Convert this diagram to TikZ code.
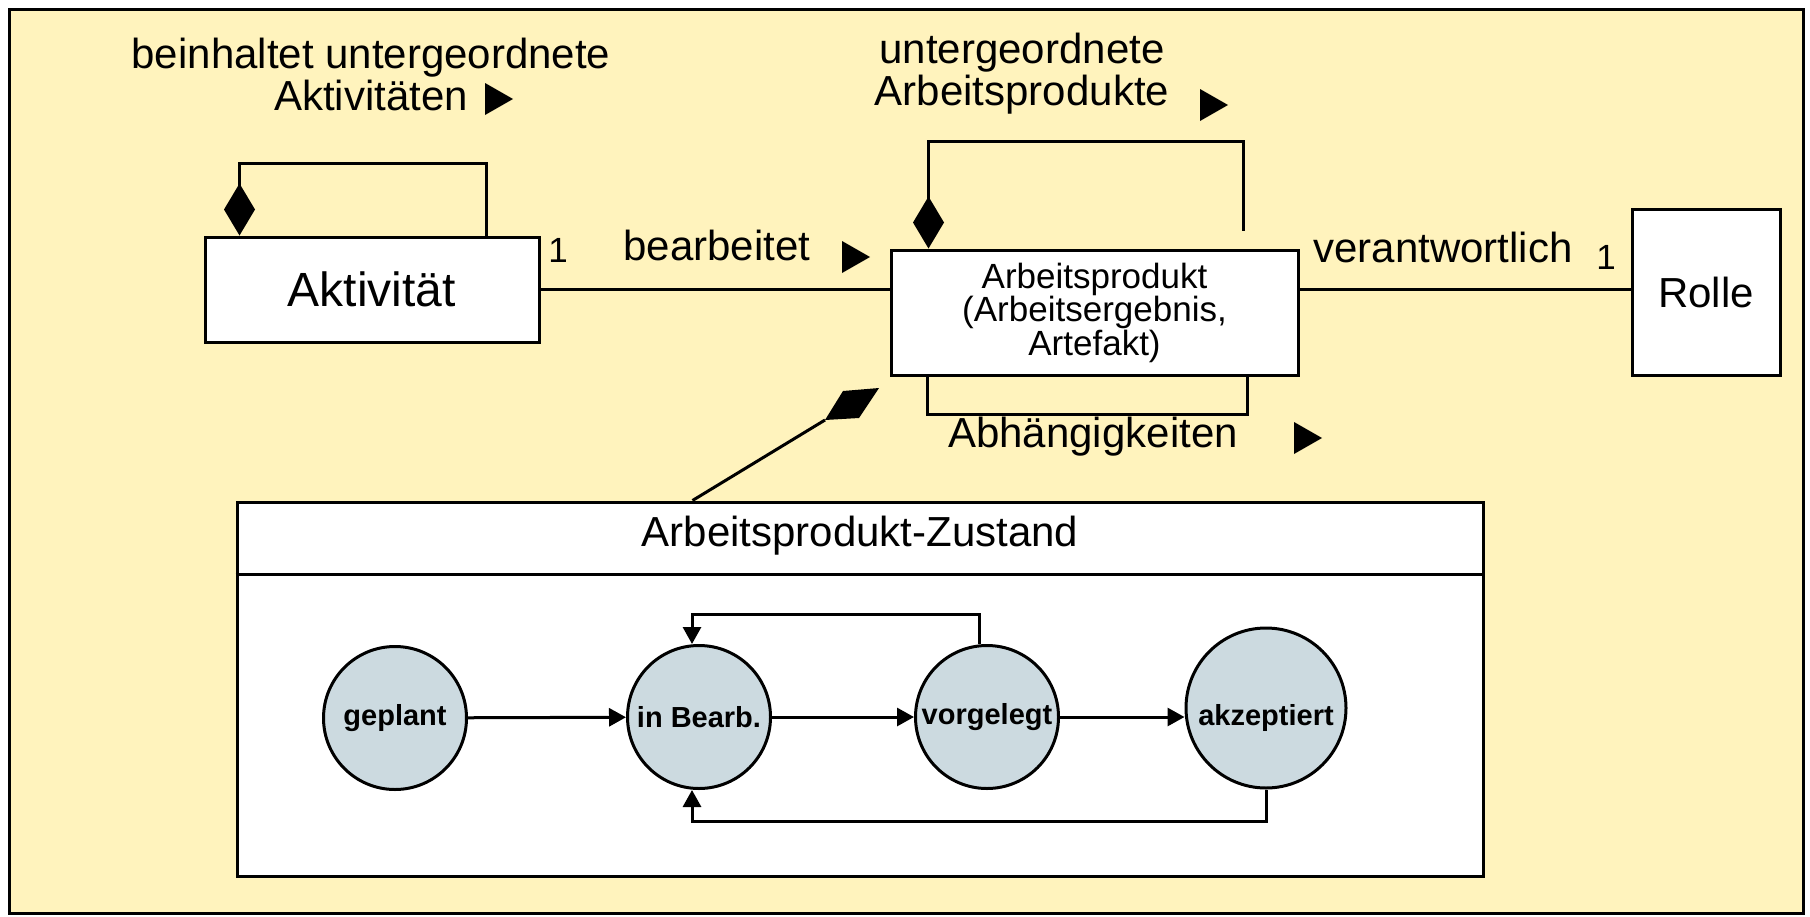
\documentclass[tikz,border=0pt]{standalone}
\usepackage{fontspec}
\setmainfont{Liberation Sans}
\usetikzlibrary{calc,arrows.meta}
\definecolor{bgyellow}{RGB}{255,243,189}
\definecolor{statefill}{RGB}{204,218,224}
\def\dirmark(#1,#2){\fill (#1,#2) ++(-13,-16) -- ++(28,16) -- ++(-28,16) -- cycle;}
\tikzset{
  cls/.style={draw, fill=white, line width=1.5pt, inner sep=0pt},
  lbl/.style={inner sep=0pt, align=center, font=\fontsize{21}{21}\selectfont},
  mult/.style={inner sep=0pt, font=\fontsize{17.5}{17.5}\selectfont},
  assoc/.style={line width=1.5pt},
  comp/.style={line width=1.5pt, -{Diamond[length=26pt,width=15.5pt]}},
  zstate/.style={circle, draw, fill=statefill, line width=1.5pt, inner sep=0pt,
    minimum size=71.5pt, font=\bfseries\fontsize{14.5}{14.5}\selectfont},
  trans/.style={line width=1.5pt, -{Triangle[length=8.5pt,width=9pt]}},
}

\begin{document}
\begin{tikzpicture}[x=0.5pt,y=-0.5pt]
		%%%%% FRAME %%%%%
		\useasboundingbox (0,0) rectangle (1810,916);
		\draw[line width=1.5pt, fill=bgyellow] (9,9) rectangle (1803,913);
		
		%%%%% CLASSES %%%%%
		\node[cls, minimum width=167pt, minimum height=52.5pt, font=\fontsize{24}{24}\selectfont] (akt) at (372,289.5) {Aktivität};
		\node[cls, minimum width=203.5pt, minimum height=62.5pt, align=center, font=\fontsize{17.5}{16.75}\selectfont] (ap) at (1094.5,312.5) {Arbeitsprodukt\\(Arbeitsergebnis,\\Artefakt)};
		\node[cls, minimum width=74pt, minimum height=83pt, font=\fontsize{21}{21}\selectfont] (rolle) at (1706,292) {Rolle};
		
		\draw[assoc] (akt.east) -- (akt.east -| ap.west);
		\draw[assoc] (ap.east |- akt.east) -- (rolle.west |- akt.east);
		
		\draw[comp] ($(akt.north east)+(-54,0)$) -- ++(0,-72) -| ($(akt.north west)+(36,0)$);
		\draw[comp] ($(ap.north east)+(-56,-18)$) -- ++(0,-89) -| ($(ap.north west)+(39,0)$);
		\draw[assoc] ($(ap.south west)+(38,0)$) -- ++(0,38) -| ($(ap.south east)+(-52,0)$);
		
		\node[lbl] (lakt) at (371,74) {beinhaltet untergeordnete\\Aktivitäten};
		\node[lbl] (lap) at (1022,74) {untergeordnete\\Arbeitsprodukte};
		\node[lbl] (lbearb) at (717,245) {bearbeitet};
		\node[lbl] (lverantw) at (1443,247) {verantwortlich};
		\node[lbl] (labh) at (1093,437) {Abhängigkeiten};
		\node[mult] (m1) at (558,250) {1};
		\node[mult] (m2) at (1606,257) {1};
		
		\dirmark(498,99)
		\dirmark(855,257)
		\dirmark(1213,105)
		\dirmark(1307,438)
		
		%%%%% STATE BOX %%%%%
		\node[cls, minimum width=623pt, minimum height=187pt] (zustand) at (860,689) {};
		\draw[assoc] ($(zustand.north west)+(0,74)$) -- ($(zustand.north east)+(0,74)$);
		\node[lbl] (ztitle) at ($(zustand.north)+(0,35)$) {Arbeitsprodukt-Zustand};
		
		\coordinate (dia) at (825,420);
		\draw[assoc] ($(zustand.north west)+(457,0)$) -- (dia);
		\fill (dia) -- ++(18,-29) -- ++(36,-3) -- ++(-20,30) -- cycle;
		
		\node[zstate] (geplant) at (395,718) {geplant};
		\node[zstate] (bearb) at (699,717) {in Bearb.};
		\node[zstate] (vorgelegt) at (987,717) {vorgelegt};
		\node[zstate, minimum size=80pt, text height=20pt, text depth=2.6pt] (akzeptiert) at (1266,708) {akzeptiert};
		
		\draw[trans] (geplant) -- (bearb);
		\draw[trans] (bearb) -- (vorgelegt);
		\draw[trans] (vorgelegt.east) -- (vorgelegt.east -| akzeptiert.west);
		\draw[trans] ($(vorgelegt.north)+(-8,0)$) -- ++(0,-30) -| ($(bearb.north)+(-7,0)$);
		\draw[trans] (akzeptiert.south) -- ++(0,32) -| ($(bearb.south)+(-7,0)$);
		
		%%%%% END %%%%%
\end{tikzpicture}
\end{document}
